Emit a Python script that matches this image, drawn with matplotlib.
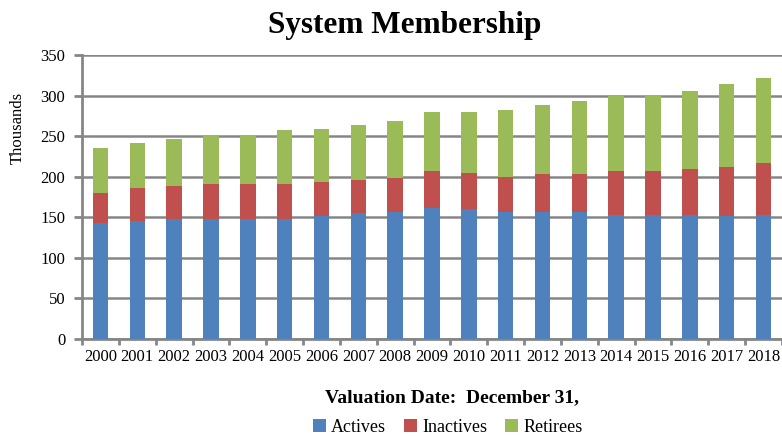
import numpy as np
import matplotlib
matplotlib.use('Agg')
import matplotlib.pyplot as plt
from matplotlib.ticker import MultipleLocator

# data (thousands)
years = ['2000', '2001', '2002', '2003', '2004', '2005', '2006', '2007', '2008', '2009',
         '2010', '2011', '2012', '2013', '2014', '2015', '2016', '2017', '2018']
actives = [143, 146, 148, 148, 148, 148, 151, 155, 157, 162,
           160, 157, 157, 157, 153, 153, 153, 151, 153]
inactives = [37, 40, 40, 43, 43, 43, 42, 41, 41, 45,
             44, 43, 46, 46, 54, 54, 56, 61, 64]
retirees = [55, 56, 58, 61, 60, 66, 66, 68, 71, 73,
            76, 82, 85, 90, 92, 94, 97, 102, 105]

plt.rcParams['font.family'] = ['Liberation Serif', 'DejaVu Serif']

grid_col = '#868686'
colors = ['#4F81BD', '#C0504D', '#9BBB59']

fig = plt.figure(figsize=(7.82, 4.36), dpi=100)
ax = fig.add_axes([82 / 782, 1 - 339 / 436, 700 / 782, (339 - 55) / 436])

x = np.arange(len(years))
w = 0.42
b1 = ax.bar(x, actives, w, color=colors[0], label='Actives', zorder=3)
bottom2 = np.array(actives)
b2 = ax.bar(x, inactives, w, bottom=bottom2, color=colors[1], label='Inactives', zorder=3)
bottom3 = bottom2 + np.array(inactives)
b3 = ax.bar(x, retirees, w, bottom=bottom3, color=colors[2], label='Retirees', zorder=3)

ax.set_xlim(-0.5, len(years) - 0.5)
ax.set_ylim(0, 350)
ax.yaxis.set_major_locator(MultipleLocator(50))
ax.set_xticks(x)
ax.set_xticklabels(years, fontsize=12)
ax.set_xticks(np.arange(-0.5, len(years), 1.0), minor=True)
ax.tick_params(axis='x', which='major', length=0, pad=7)
ax.tick_params(axis='x', which='minor', length=4, width=2, color=grid_col, direction='out')
ax.tick_params(axis='y', length=6, width=2, color=grid_col, direction='out', pad=6, labelsize=12)

ax.grid(axis='y', color=grid_col, linewidth=1.8, zorder=0)
ax.set_axisbelow(True)
for s in ['top', 'right']:
    ax.spines[s].set_visible(False)
for s in ['left', 'bottom']:
    ax.spines[s].set_color(grid_col)
    ax.spines[s].set_linewidth(2)

fig.text(405 / 782, 1 - 25 / 436, 'System Membership', fontsize=22.5, fontweight='bold',
         ha='center', va='center')
fig.text(18 / 782, 1 - 128 / 436, 'Thousands', fontsize=12, rotation=90,
         ha='center', va='center')
fig.text(452 / 782, 1 - 398 / 436, 'Valuation Date:  December 31,', fontsize=14,
         fontweight='bold', ha='center', va='center')

fig.legend(handles=[b1, b2, b3], loc='center', bbox_to_anchor=(448 / 782, 1 - 427 / 436),
           ncol=3, frameon=False, fontsize=13, handlelength=0.7, handleheight=0.7,
           handletextpad=0.3, columnspacing=1.0, borderpad=0)

fig.savefig('out.png', dpi=100)
